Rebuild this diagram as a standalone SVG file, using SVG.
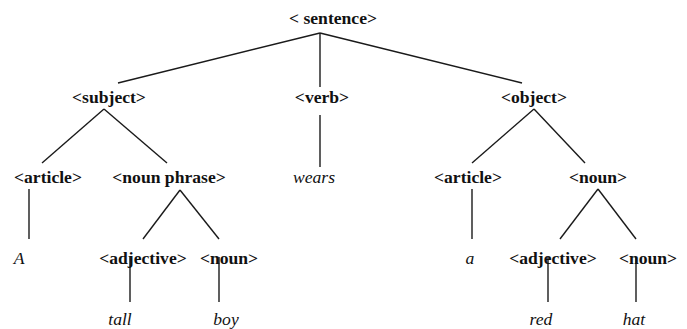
<svg xmlns="http://www.w3.org/2000/svg" width="687" height="329" viewBox="0 0 687 329">
<style>
text{font-family:'Liberation Serif','DejaVu Serif',serif;font-size:17.6px;fill:#111;text-anchor:middle}
.n{font-weight:bold}
.w{font-style:italic}
.e line{stroke:#1a1a1a;stroke-width:1.4;fill:none}
</style>
<rect width="687" height="329" fill="#fff"/>
<g class="e" id="connectors">
<line x1="320" y1="33" x2="118" y2="83"/>
<line x1="320" y1="33" x2="320" y2="87"/>
<line x1="320" y1="33" x2="522" y2="83"/>
<line x1="104" y1="109" x2="42" y2="163"/>
<line x1="104" y1="109" x2="167" y2="163"/>
<line x1="320" y1="115" x2="320" y2="167"/>
<line x1="534" y1="109" x2="472" y2="163"/>
<line x1="534" y1="109" x2="585" y2="163"/>
<line x1="29" y1="189" x2="29" y2="239"/>
<line x1="180" y1="190" x2="143" y2="239"/>
<line x1="180" y1="190" x2="219" y2="239"/>
<line x1="472" y1="189" x2="472" y2="239"/>
<line x1="598" y1="189" x2="560" y2="239"/>
<line x1="598" y1="189" x2="636" y2="239"/>
<line x1="130" y1="257" x2="130" y2="302"/>
<line x1="219" y1="257" x2="219" y2="302"/>
<line x1="548" y1="257" x2="548" y2="302"/>
<line x1="636" y1="257" x2="636" y2="302"/>
</g>
<g id="sentence"><text class="n" x="333" y="24">&lt; sentence&gt;</text></g>
<g id="subject"><text class="n" x="109" y="103">&lt;subject&gt;</text></g>
<g id="verb"><text class="n" x="322" y="103">&lt;verb&gt;</text></g>
<g id="object"><text class="n" x="534" y="103">&lt;object&gt;</text></g>
<g id="article1"><text class="n" x="48" y="183">&lt;article&gt;</text></g>
<g id="nounphrase"><text class="n" x="169" y="183">&lt;noun phrase&gt;</text></g>
<g id="wears"><text class="w" x="314" y="183">wears</text></g>
<g id="article2"><text class="n" x="468" y="183">&lt;article&gt;</text></g>
<g id="noun2"><text class="n" x="598" y="183">&lt;noun&gt;</text></g>
<g id="A"><text class="w" x="19" y="264">A</text></g>
<g id="adjective1"><text class="n" x="143" y="264">&lt;adjective&gt;</text></g>
<g id="noun1"><text class="n" x="229" y="264">&lt;noun&gt;</text></g>
<g id="a"><text class="w" x="470" y="264">a</text></g>
<g id="adjective2"><text class="n" x="553" y="264">&lt;adjective&gt;</text></g>
<g id="noun3"><text class="n" x="648" y="264">&lt;noun&gt;</text></g>
<g id="tall"><text class="w" x="120" y="325">tall</text></g>
<g id="boy"><text class="w" x="226" y="325">boy</text></g>
<g id="red"><text class="w" x="541" y="325">red</text></g>
<g id="hat"><text class="w" x="634" y="325">hat</text></g>
</svg>
